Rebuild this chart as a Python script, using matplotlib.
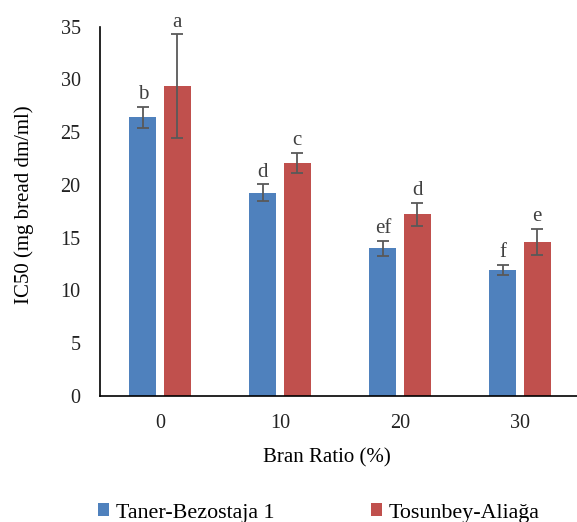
import numpy as np
import matplotlib.pyplot as plt

plt.rcParams['font.family'] = ['Liberation Serif', 'DejaVu Serif']

ratios = ['0', '10', '20', '30']
taner = [26.4, 19.25, 14.0, 11.95]
taner_err = [1.0, 0.8, 0.7, 0.48]
tosun = [29.35, 22.1, 17.2, 14.6]
tosun_err = [4.9, 0.95, 1.1, 1.25]
taner_letters = ['b', 'd', 'ef', 'f']
tosun_letters = ['a', 'c', 'd', 'e']

fig = plt.figure(figsize=(5.77, 5.22), dpi=100)
ax = fig.add_axes([100/577, 126/522, 480/577, 369.5/522])

x = np.arange(len(ratios))
w = 0.225
off = 0.142
err_kw = dict(ecolor='#595959', elinewidth=1.3, capsize=4.5, capthick=1.3)

b1 = ax.bar(x - off, taner, w, yerr=taner_err, color='#4F81BD',
            label='Taner-Bezostaja 1', error_kw=err_kw)
b2 = ax.bar(x + off, tosun, w, yerr=tosun_err, color='#C0504D',
            label='Tosunbey-Aliağa', error_kw=err_kw)

# significance letters above the error bars
for xs, vals, errs, lets in [(x - off, taner, taner_err, taner_letters),
                             (x + off, tosun, tosun_err, tosun_letters)]:
    for xi, v, e, t in zip(xs, vals, errs, lets):
        ax.annotate(t, (xi, v + e), xytext=(0, 2), textcoords='offset points',
                    ha='center', va='bottom', fontsize=15, color='#404040')

ax.set_xlim(-0.5, 3.5)
ax.set_ylim(0, 35)
ax.set_yticks(range(0, 36, 5))
ax.set_xticks(x)
ax.set_xticklabels(ratios)
ax.tick_params(length=0, labelsize=14.5, colors='#222222')
ax.tick_params(axis='y', pad=14)
ax.tick_params(axis='x', pad=13)
for s in ['top', 'right']:
    ax.spines[s].set_visible(False)
ax.spines['left'].set_linewidth(1.2)
ax.spines['bottom'].set_linewidth(1.2)

ax.set_ylabel('IC50 (mg bread dm/ml)', fontsize=15)
ax.yaxis.set_label_coords((34 - 100) / 480, (396 - 205) / 369.5)
ax.set_xlabel('Bran Ratio (%)', fontsize=15)
ax.xaxis.set_label_coords((327 - 100) / 480, -(448 - 396) / 369.5)

fig.legend(handles=[b1, b2], loc='center', bbox_to_anchor=(319/577, 1 - 513/522),
           ncol=2, frameon=False, fontsize=15.8, handlelength=0.5, handleheight=0.5,
           handletextpad=0.3, columnspacing=4.4, borderpad=0)

plt.savefig('out.png', dpi=100)
